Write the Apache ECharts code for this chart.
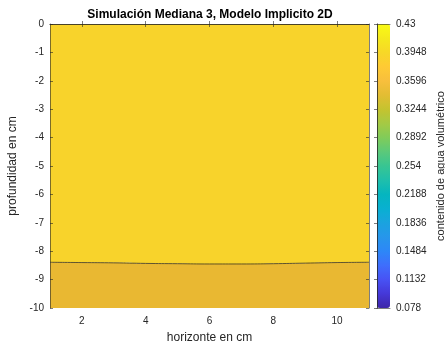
<!DOCTYPE html>
<html>
<head>
<meta charset="utf-8">
<script src="https://cdn.jsdelivr.net/npm/echarts@6/dist/echarts.min.js"></script>
<style>
  html, body { margin: 0; padding: 0; background: #ffffff; }
  #chart { width: 445px; height: 345px; }
</style>
</head>
<body>
<div id="chart"></div>
<script>
// Horizontal positions (cm) and depth of the wetting-front contour (cm)
const horizonte = [1, 2, 3, 4, 5, 6, 7, 8, 9, 10, 11];
const frenteHumedo = [-8.39, -8.40, -8.41, -8.43, -8.44, -8.45, -8.45, -8.44, -8.42, -8.40, -8.39];

// Axis ticks
const xTicks = [2, 4, 6, 8, 10];
const cbTicks = [0.078, 0.1132, 0.1484, 0.1836, 0.2188, 0.254, 0.2892, 0.3244, 0.3596, 0.3948, 0.43];
const cbMin = 0.078;
const cbMax = 0.43;

// Parula colour map, evenly spaced stops from low to high
const parula = ['#3E26A8', '#4538D8', '#4852F4', '#3F6EFC', '#2D87F7', '#2796EB', '#1AA3DF',
  '#09B0D1', '#05B5BF', '#1FBFAB', '#38C592', '#5BC97A', '#81CC59', '#A5C944', '#C5C32F',
  '#E3BD33', '#F8BF3D', '#FECA34', '#F7D827', '#F5E91D', '#F9FB15'];

const ink = '#262626';
const font = "'Liberation Sans', Arial, Helvetica, sans-serif";
const frameLine = { show: true, lineStyle: { color: ink, width: 0.6 } };
const tickIn = (vals) => ({ show: true, inside: true, length: 3, customValues: vals, lineStyle: { color: ink, width: 0.6 } });

const chart = echarts.init(document.getElementById('chart'), null, { renderer: 'canvas' });
const front = horizonte.map((x, i) => [x, frenteHumedo[i]]);

chart.setOption({
  animation: false,
  textStyle: { fontFamily: font },
  title: {
    text: 'Simulación Mediana 3, Modelo Implicito 2D',
    left: 210, top: 9, padding: 0, textAlign: 'center',
    textStyle: { fontFamily: font, fontSize: 12, fontWeight: 'bold', color: '#000' }
  },
  grid: [
    { left: 50, top: 24, width: 319, height: 284, outerBoundsMode: 'none', containLabel: false },
    { left: 377, top: 24, width: 13, height: 284, outerBoundsMode: 'none', containLabel: false }
  ],
  visualMap: {
    type: 'continuous', min: cbMin, max: cbMax, seriesIndex: [],
    calculable: false, hoverLink: false, orient: 'vertical',
    left: 377, top: 24, itemWidth: 13, itemHeight: 284, padding: 0,
    text: null, inRange: { color: parula }
  },
  xAxis: [
    {
      gridIndex: 0, type: 'value', min: 1, max: 11, position: 'bottom', z: 5,
      axisLine: frameLine, axisTick: tickIn(xTicks), splitLine: { show: false },
      axisLabel: { customValues: xTicks, color: ink, fontSize: 10, margin: 8 },
      name: 'horizonte en cm', nameLocation: 'middle', nameGap: 24,
      nameTextStyle: { color: ink, fontSize: 12 }
    },
    {
      gridIndex: 0, type: 'value', min: 1, max: 11, position: 'top', z: 5,
      axisLine: frameLine, axisTick: tickIn(xTicks), splitLine: { show: false },
      axisLabel: { show: false }
    },
    {
      gridIndex: 1, type: 'value', min: 0, max: 1, position: 'bottom', z: 5,
      axisLine: frameLine, axisTick: { show: false }, axisLabel: { show: false }, splitLine: { show: false }
    },
    {
      gridIndex: 1, type: 'value', min: 0, max: 1, position: 'top', z: 5,
      axisLine: frameLine, axisTick: { show: false }, axisLabel: { show: false }, splitLine: { show: false }
    }
  ],
  yAxis: [
    {
      gridIndex: 0, type: 'value', min: -10, max: 0, interval: 1, position: 'left', z: 5,
      axisLine: frameLine, axisTick: { show: true, inside: true, length: 3, lineStyle: { color: ink, width: 0.6 } },
      splitLine: { show: false },
      axisLabel: { color: ink, fontSize: 10, margin: 6 },
      name: 'profundidad en cm', nameLocation: 'middle', nameGap: 21,
      nameTextStyle: { color: ink, fontSize: 12 }
    },
    {
      gridIndex: 0, type: 'value', min: -10, max: 0, interval: 1, position: 'right', z: 5,
      axisLine: frameLine, axisTick: { show: true, inside: true, length: 3, lineStyle: { color: ink, width: 0.6 } },
      splitLine: { show: false }, axisLabel: { show: false }
    },
    {
      gridIndex: 1, type: 'value', min: cbMin, max: cbMax, position: 'right', z: 5,
      axisLine: frameLine, axisTick: tickIn(cbTicks), splitLine: { show: false },
      axisLabel: { customValues: cbTicks, color: ink, fontSize: 10, margin: 6 },
      name: 'contenido de agua volumétrico', nameLocation: 'middle', nameGap: 45,
      nameTextStyle: { color: ink, fontSize: 11 }
    },
    {
      gridIndex: 1, type: 'value', min: cbMin, max: cbMax, position: 'left', z: 5,
      axisLine: frameLine, axisTick: { show: false }, axisLabel: { show: false }, splitLine: { show: false }
    }
  ],
  series: [
    {
      // wetter upper zone, filled from the front up to the surface
      type: 'line', xAxisIndex: 0, yAxisIndex: 0, data: front, smooth: true,
      symbol: 'none', silent: true, z: 2,
      lineStyle: { width: 0 },
      areaStyle: { color: '#F8D32B', opacity: 1, origin: 'end' }
    },
    {
      // lower zone, filled from the front down to the bottom
      type: 'line', xAxisIndex: 0, yAxisIndex: 0, data: front, smooth: true,
      symbol: 'none', silent: true, z: 2,
      lineStyle: { width: 0 },
      areaStyle: { color: '#E9B832', opacity: 1, origin: 'start' }
    },
    {
      // contour line of the front
      type: 'line', xAxisIndex: 0, yAxisIndex: 0, data: front, smooth: true,
      symbol: 'none', silent: true, z: 3,
      lineStyle: { color: '#3a3320', width: 0.8 }
    },
    {
      type: 'scatter', xAxisIndex: 2, yAxisIndex: 2, data: [], silent: true
    }
  ]
});
</script>
</body>
</html>
